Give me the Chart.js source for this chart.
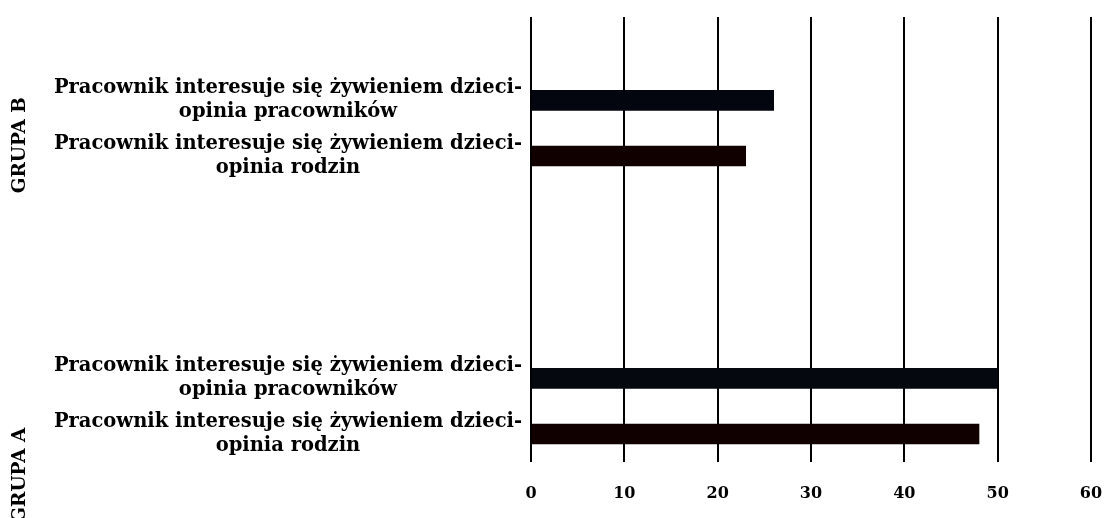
<!DOCTYPE html>
<html>
<head>
<meta charset="utf-8">
<script src="https://cdn.jsdelivr.net/npm/chart.js@4/dist/chart.umd.min.js"></script>
<style>
  html, body { margin: 0; padding: 0; background: #fff; }
  #wrap { width: 1105px; height: 518px; position: relative; }
</style>
</head>
<body>
<div id="wrap"><canvas id="chart"></canvas></div>
<script>
// kategorie (od góry do dołu), puste pozycje to przerwy między grupami
const categories = [
    '',
    ['Pracownik interesuje się żywieniem dzieci-', 'opinia pracowników'],
    ['Pracownik interesuje się żywieniem dzieci-', 'opinia rodzin'],
    '',
    '',
    '',
    ['Pracownik interesuje się żywieniem dzieci-', 'opinia pracowników'],
    ['Pracownik interesuje się żywieniem dzieci-', 'opinia rodzin']
];
const values = [null, 26, 23, null, null, null, 50, 48];
const barColors = ['#03050f', '#03050f', '#110000', '#03050f', '#03050f', '#03050f', '#05080e', '#110000'];
const groupLabels = ['GRUPA B', 'GRUPA A'];
const xTicks = [0, 10, 20, 30, 40, 50, 60];

const fontFamily = '"DejaVu Serif", "Liberation Serif", serif';

// napisy grup po lewej stronie, obrócone o 90 stopni
const groupLabelPlugin = {
    id: 'groupLabels',
    afterDraw(chart) {
        const ctx = chart.ctx;
        const y = chart.scales.y;
        const spots = [
            (y.getPixelForValue(1) + y.getPixelForValue(2)) / 2 + 17,
            (y.getPixelForValue(6) + y.getPixelForValue(7)) / 2 + 69
        ];
        ctx.save();
        ctx.fillStyle = '#000';
        ctx.font = 'bold 18.5px ' + fontFamily;
        ctx.textAlign = 'center';
        ctx.textBaseline = 'middle';
        groupLabels.forEach((txt, i) => {
            ctx.save();
            ctx.translate(20, spots[i]);
            ctx.rotate(-Math.PI / 2);
            ctx.fillText(txt, 0, 0);
            ctx.restore();
        });
        ctx.restore();
    }
};

new Chart(document.getElementById('chart').getContext('2d'), {
    type: 'bar',
    data: {
        labels: categories,
        datasets: [{
            data: values,
            backgroundColor: barColors,
            borderWidth: 0,
            barThickness: 20
        }]
    },
    options: {
        indexAxis: 'y',
        responsive: true,
        maintainAspectRatio: false,
        animation: false,
        layout: { padding: { top: 17, right: 14, left: 0, bottom: -7 } },
        plugins: {
            legend: { display: false },
            tooltip: { enabled: false }
        },
        scales: {
            x: {
                min: 0,
                max: 60,
                afterBuildTicks(scale) {
                    scale.ticks = xTicks.map(v => ({ value: v }));
                },
                afterFit(scale) {
                    scale.paddingLeft = 0;
                    scale.paddingRight = 0;
                },
                grid: { color: '#000', lineWidth: 2, drawTicks: false },
                border: { display: false },
                ticks: {
                    color: '#000',
                    padding: 22,
                    font: { family: fontFamily, size: 16, weight: 'bold' }
                }
            },
            y: {
                grid: { display: false, drawTicks: false },
                border: { display: false },
                afterFit(scale) {
                    scale.width = 531;
                    scale.paddingTop = 0;
                    scale.paddingBottom = 0;
                },
                ticks: {
                    color: '#000',
                    crossAlign: 'center',
                    padding: 9,
                    autoSkip: false,
                    font: { family: fontFamily, size: 19.5, weight: 'bold', lineHeight: 1.23 }
                }
            }
        }
    },
    plugins: [groupLabelPlugin]
});
</script>
</body>
</html>
